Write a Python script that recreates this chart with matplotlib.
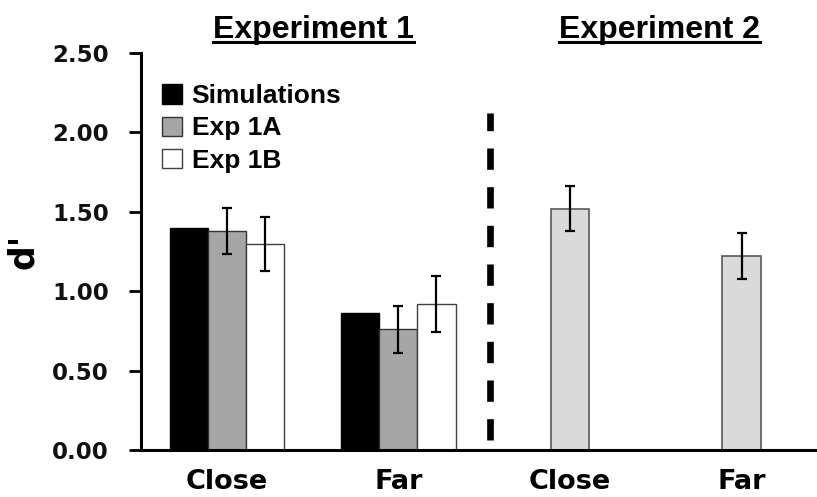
import numpy as np
import matplotlib.pyplot as plt
from matplotlib.lines import Line2D

plt.rcParams['font.family'] = ['Liberation Sans', 'DejaVu Sans']
plt.rcParams['font.weight'] = 'bold'

# Experiment 1 (three series over Close / Far)
exp1_cats = ['Close', 'Far']
sim = [1.40, 0.86]
exp1a = [1.38, 0.76]
exp1a_err = [0.145, 0.147]
exp1b = [1.30, 0.92]
exp1b_err = [0.17, 0.175]

# Experiment 2
exp2_cats = ['Close', 'Far']
exp2 = [1.52, 1.22]
exp2_err = [0.143, 0.145]

fig = plt.figure(figsize=(8.17, 4.97), dpi=100)
ax = fig.add_axes([0.1726, 0.0946, 0.8274, 0.7988])

w = 0.222
x1 = np.arange(len(exp1_cats))
x2 = np.arange(len(exp2_cats)) + len(exp1_cats)

ekw = dict(elinewidth=1.6, capthick=1.6, ecolor='black')
ax.bar(x1 - w, sim, w, color='black', edgecolor='black', lw=1, label='Simulations')
ax.bar(x1, exp1a, w, color='#a6a6a6', edgecolor='#333333', lw=1,
       yerr=exp1a_err, capsize=3.6, error_kw=ekw, label='Exp 1A')
ax.bar(x1 + w, exp1b, w, color='white', edgecolor='#404040', lw=1,
       yerr=exp1b_err, capsize=3.6, error_kw=ekw, label='Exp 1B')
ax.bar(x2, exp2, w, color='#d9dad9', edgecolor='#595959', lw=1.2,
       yerr=exp2_err, capsize=3.6, error_kw=ekw)

# divider between experiments
ax.plot([1.536, 1.536], [0.06, 2.12], color='black', lw=4.8, ls=(0, (3.2, 2.6)))

ax.set_xlim(-0.5, 3.44)
ax.set_ylim(0, 2.5)
yt = np.arange(0, 2.51, 0.5)
ax.set_yticks(yt)
ax.set_yticklabels([f'{v:.2f}' for v in yt], fontsize=16.5, color='#111111',
                   family='DejaVu Sans')
ax.set_xticks(list(x1) + list(x2))
ax.set_xticklabels(exp1_cats + exp2_cats, fontsize=19.5, family='DejaVu Sans')
ax.tick_params(axis='x', length=0, pad=14)
ax.tick_params(axis='y', length=9, width=2, direction='out', pad=14)
ax.set_ylabel("d'", fontsize=25, fontweight='bold', family='DejaVu Sans', labelpad=9)
for s in ['top', 'right']:
    ax.spines[s].set_visible(False)
for s in ['left', 'bottom']:
    ax.spines[s].set_linewidth(2.2)

ax.legend(loc='upper left', bbox_to_anchor=(0.012, 0.955), frameon=False, fontsize=19,
          handlelength=0.76, handleheight=0.76, handletextpad=0.35, labelspacing=0.32,
          borderaxespad=0.3, borderpad=0.2)

# underlined experiment headings
titles = []
for xc, txt in [(0.505, 'Experiment 1'), (2.52, 'Experiment 2')]:
    t = ax.text(xc, 2.55, txt, ha='center', va='bottom', fontsize=23, clip_on=False)
    titles.append(t)
fig.canvas.draw()
r = fig.canvas.get_renderer()
for t in titles:
    bb = t.get_window_extent(r).transformed(fig.transFigure.inverted())
    fig.add_artist(Line2D([bb.x0, bb.x1], [bb.y0 + 0.006, bb.y0 + 0.006],
                          color='black', lw=2.2, transform=fig.transFigure))

fig.savefig('out.png', dpi=100)
